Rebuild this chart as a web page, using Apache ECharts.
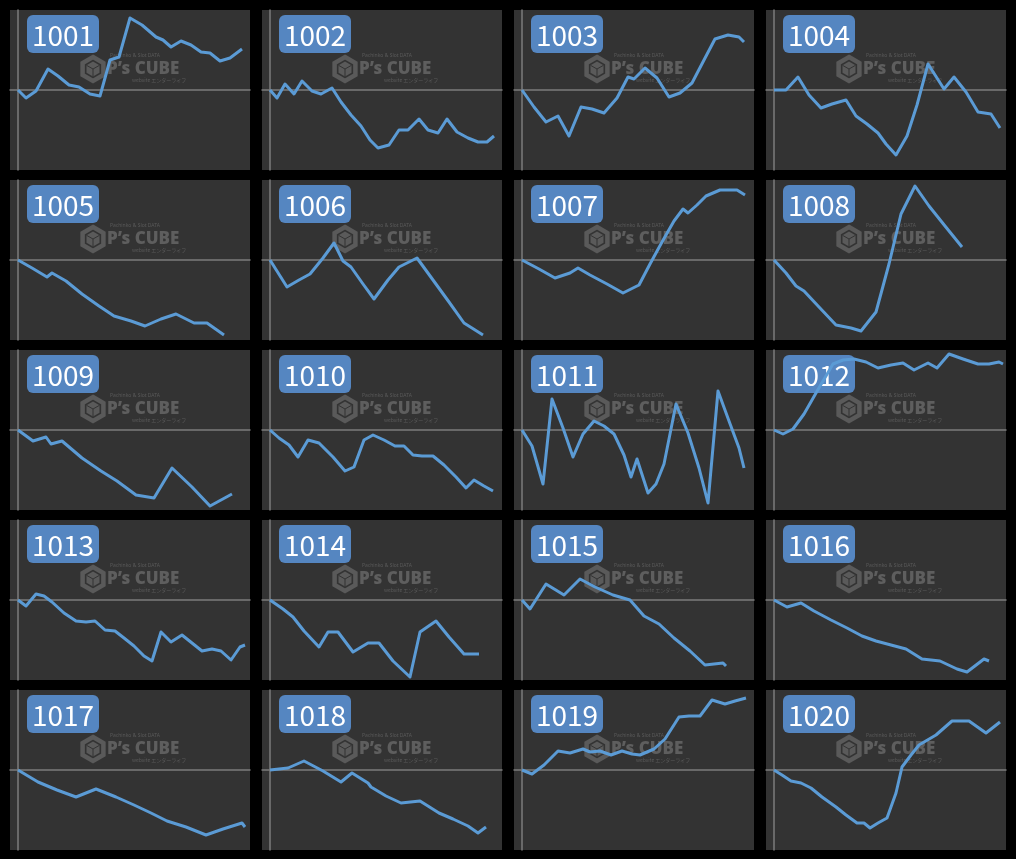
<!DOCTYPE html>
<html>
<head>
<meta charset="utf-8">
<title>P's CUBE</title>
<script src="https://cdn.jsdelivr.net/npm/echarts@6.0.0/dist/echarts.min.js"></script>
<style>
    html, body { margin: 0; padding: 0; background: #000; }
    #main { width: 1016px; height: 859px; }
</style>
</head>
<body>
<div id="main"></div>
<script>
// 台番号
const names = ['1001', '1002', '1003', '1004', '1005', '1006', '1007', '1008', '1009', '1010',
    '1011', '1012', '1013', '1014', '1015', '1016', '1017', '1018', '1019', '1020']

// 差枚推移 [ゲーム, 差枚]
const d1001 = [[0,0],[8,-8],[18,-1],[30,21],[40,14],[51,5],[61,3],[72,-4],[82,-6],[92,30],[101,33],[112,72],[124,65],[138,53],[145,50],[153,43],[163,49],[173,45],[183,38],[192,37],[202,29],[212,32],[224,41]]
const d1002 = [[0,0],[7,-8],[15,6],[24,-4],[32,9],[42,-1],[51,-4],[62,2],[71,-12],[81,-25],[91,-36],[100,-50],[108,-58],[119,-55],[129,-40],[138,-40],[149,-29],[158,-40],[168,-43],[177,-29],[187,-42],[198,-48],[208,-52],[217,-52],[224,-46]]
const d1003 = [[0,0],[12,-17],[24,-32],[36,-26],[47,-46],[59,-17],[70,-19],[82,-23],[95,-8],[106,13],[112,11],[123,22],[135,12],[147,-7],[158,-3],[170,7],[182,30],[193,51],[206,55],[217,53],[222,48]]
const d1004 = [[0,0],[12,0],[24,13],[35,-5],[47,-18],[58,-14],[72,-10],[82,-26],[93,-34],[104,-43],[112,-54],[122,-65],[133,-46],[143,-15],[154,26],[170,1],[180,13],[192,-2],[204,-22],[217,-24],[226,-38]]
const d1005 = [[0,0],[14,-8],[29,-17],[34,-13],[48,-21],[64,-34],[81,-46],[96,-56],[113,-61],[127,-66],[143,-59],[158,-54],[176,-63],[189,-63],[206,-75]]
const d1006 = [[0,0],[17,-27],[29,-20],[40,-14],[53,2],[64,17],[73,-1],[81,-7],[93,-24],[104,-39],[118,-20],[129,-7],[147,2],[163,-20],[179,-42],[194,-63],[213,-75]]
const d1007 = [[0,0],[17,-9],[33,-18],[48,-13],[56,-8],[68,-15],[85,-24],[101,-33],[117,-25],[128,-4],[140,18],[152,39],[161,51],[166,47],[175,55],[184,64],[198,70],[215,70],[223,65]]
const d1008 = [[0,0],[12,-13],[22,-26],[30,-31],[45,-47],[62,-65],[77,-68],[87,-71],[102,-52],[115,-4],[127,46],[141,74],[155,54],[171,34],[188,13]]
const d1009 = [[0,0],[15,-11],[28,-7],[33,-14],[44,-11],[64,-28],[83,-41],[99,-51],[118,-65],[136,-68],[154,-38],[174,-57],[192,-76],[214,-64]]
const d1010 = [[0,0],[9,-8],[19,-15],[28,-27],[38,-10],[49,-13],[63,-27],[75,-41],[84,-37],[94,-10],[103,-5],[114,-10],[125,-16],[134,-16],[143,-25],[152,-26],[163,-26],[174,-35],[186,-47],[196,-58],[204,-50],[214,-56],[223,-61]]
const d1011 = [[0,0],[10,-16],[21,-54],[30,31],[41,2],[51,-27],[61,-4],[72,9],[82,4],[92,-4],[102,-25],[109,-47],[115,-29],[126,-63],[134,-54],[142,-34],[154,26],[166,-3],[177,-38],[186,-73],[196,39],[207,9],[217,-18],[222,-38]]
const d1012 = [[0,0],[9,-4],[19,1],[30,16],[42,37],[59,66],[69,70],[80,71],[92,68],[104,62],[117,65],[129,67],[140,60],[154,67],[163,62],[175,76],[189,71],[204,66],[215,66],[225,68],[229,66]]
const d1013 = [[0,0],[8,-6],[18,6],[26,4],[34,-2],[46,-13],[58,-21],[68,-22],[77,-21],[87,-30],[97,-31],[106,-38],[116,-46],[126,-56],[134,-61],[143,-32],[153,-42],[164,-35],[174,-43],[184,-51],[194,-49],[203,-51],[213,-60],[222,-47],[227,-45]]
const d1014 = [[0,0],[13,-9],[23,-17],[34,-31],[49,-47],[58,-32],[68,-32],[83,-52],[98,-43],[109,-43],[123,-61],[140,-77],[150,-32],[166,-21],[179,-37],[194,-54],[209,-54]]
const d1015 = [[0,0],[8,-9],[24,16],[42,5],[58,21],[73,13],[91,5],[108,0],[122,-16],[137,-24],[152,-38],[168,-51],[183,-65],[201,-63],[204,-66]]
const d1016 = [[0,0],[13,-7],[27,-3],[40,-11],[57,-20],[73,-28],[88,-36],[102,-41],[117,-45],[132,-49],[148,-59],[166,-61],[183,-69],[193,-72],[210,-59],[215,-61]]
const d1017 = [[0,0],[20,-12],[39,-20],[58,-27],[78,-19],[98,-27],[116,-35],[133,-43],[149,-51],[168,-57],[188,-65],[205,-59],[224,-53],[227,-57]]
const d1018 = [[0,0],[18,2],[34,9],[53,-1],[71,-12],[82,-3],[98,-13],[101,-17],[116,-26],[131,-33],[150,-31],[169,-43],[183,-49],[198,-56],[208,-63],[216,-57]]
const d1019 = [[0,0],[10,-4],[22,5],[36,19],[48,17],[61,21],[68,18],[78,19],[89,15],[100,19],[110,16],[118,15],[132,21],[143,31],[157,53],[167,54],[178,54],[190,70],[203,66],[213,69],[224,72]]
const d1020 = [[0,0],[8,-5],[17,-11],[27,-13],[37,-18],[48,-27],[62,-37],[72,-45],[83,-53],[90,-53],[96,-58],[104,-53],[113,-48],[122,-23],[128,3],[137,15],[145,25],[162,35],[178,49],[195,49],[212,37],[226,48]]

const dataList = [d1001, d1002, d1003, d1004, d1005, d1006, d1007, d1008, d1009, d1010,
    d1011, d1012, d1013, d1014, d1015, d1016, d1017, d1018, d1019, d1020]

// パネル配置
const colX = [10, 262, 514, 766]
const rowY = [10, 180, 350, 520, 690]
const PANEL_W = 240
const PANEL_H = 160

const WM = '#5a5a5a'

function hexPoints(cx, cy, r) {
    const pts = []
    for (let k = 0; k < 6; k++) {
        const a = Math.PI / 3 * k - Math.PI / 2
        pts.push([cx + r * Math.cos(a), cy + r * Math.sin(a)])
    }
    return pts
}

// 透かしロゴ
function watermark(x, y) {
    return {
        type: 'group',
        x: x,
        y: y,
        z: 1,
        silent: true,
        children: [
            { type: 'polygon', shape: { points: hexPoints(83, 59, 12) }, style: { fill: 'none', stroke: WM, lineWidth: 4.5 } },
            { type: 'polygon', shape: { points: [[83, 51.5], [89.5, 55.3], [89.5, 62.7], [83, 66.5], [76.5, 62.7], [76.5, 55.3]] }, style: { fill: WM } },
            { type: 'polyline', shape: { points: [[76.5, 55.3], [83, 59], [89.5, 55.3]] }, style: { stroke: '#333', lineWidth: 1 } },
            { type: 'line', shape: { x1: 83, y1: 59, x2: 83, y2: 66.5 }, style: { stroke: '#333', lineWidth: 1 } },
            { type: 'text', x: 100, y: 46, style: { text: 'Pachinko & Slot DATA', fill: WM, font: '5px "Noto Sans"', verticalAlign: 'middle' } },
            { type: 'text', x: 97, y: 59, style: { text: 'P’s CUBE', fill: '#5e5e5e', font: '900 17px "Noto Sans"', verticalAlign: 'middle' } },
            { type: 'text', x: 122, y: 70, style: { text: 'website エンターライフ', fill: WM, font: '5px "Noto Sans CJK JP"', verticalAlign: 'middle' } }
        ]
    }
}

// 台番号ラベル
function label(x, y, name) {
    return {
        type: 'group',
        x: x,
        y: y,
        z: 100,
        children: [
            { type: 'rect', shape: { x: 17, y: 5, width: 72, height: 38, r: 6 }, style: { fill: '#5586c1' } },
            { type: 'text', x: 53, y: 25, style: { text: name, fill: '#fff', font: '28px "Noto Sans CJK JP"', align: 'center', verticalAlign: 'middle' } }
        ]
    }
}

const grids = []
const xAxes = []
const yAxes = []
const series = []
const graphics = []

names.forEach(function (name, i) {
    const px = colX[i % 4]
    const py = rowY[Math.floor(i / 4)]
    grids.push({
        left: px, top: py, width: PANEL_W, height: PANEL_H,
        show: true, backgroundColor: '#333333', borderWidth: 0
    })
    xAxes.push({
        type: 'value', gridIndex: i, min: -8, max: 232,
        axisLine: { onZero: true, lineStyle: { color: '#7c7c7c', width: 1.5 } },
        axisTick: { show: false }, axisLabel: { show: false }, splitLine: { show: false }
    })
    yAxes.push({
        type: 'value', gridIndex: i, min: -80, max: 80,
        axisLine: { show: true, onZero: true, lineStyle: { color: '#7c7c7c', width: 1.5 } },
        axisTick: { show: false }, axisLabel: { show: false }, splitLine: { show: false }
    })
    series.push({
        name: name,
        type: 'line',
        xAxisIndex: i,
        yAxisIndex: i,
        data: dataList[i],
        showSymbol: false,
        z: 2,
        lineStyle: { color: '#5b9bd5', width: 3, join: 'round' }
    })
    graphics.push(watermark(px, py))
    graphics.push(label(px, py, name))
})

const myChart = echarts.init(document.getElementById('main'), null, { renderer: 'canvas' })
const option = {
    backgroundColor: '#000',
    animation: false,
    grid: grids,
    xAxis: xAxes,
    yAxis: yAxes,
    series: series,
    graphic: graphics
}
myChart.setOption(option)
</script>
</body>
</html>
